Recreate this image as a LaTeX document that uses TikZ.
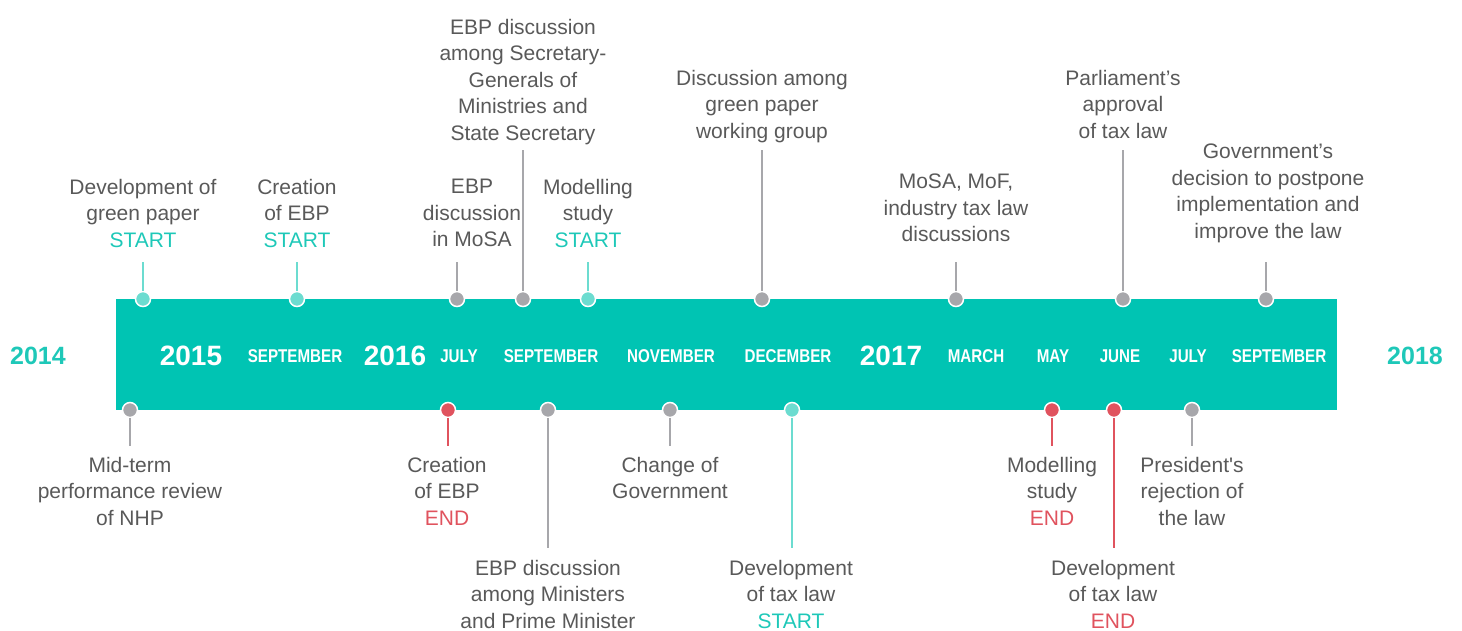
\documentclass[tikz,border=0pt]{standalone}
\usepackage{fontspec}
\setmainfont{Liberation Sans}
\newfontfamily\condfont[FakeStretch=0.82]{Liberation Sans}
\definecolor{barteal}{RGB}{0,196,179}
\definecolor{lteal}{RGB}{108,220,208}
\definecolor{startc}{RGB}{30,200,184}
\definecolor{mgray}{RGB}{167,167,171}
\definecolor{mred}{RGB}{224,83,94}
\definecolor{txt}{RGB}{89,89,89}
\tikzset{
  dotm/.style={circle,draw=white,line width=1.5pt,minimum size=15pt,inner sep=0pt,fill=#1},
  stem/.style={line width=2pt,draw=#1},
  lbl/.style={anchor=north,inner sep=0pt,align=center,text=txt,font=\fontsize{21}{26.5}\selectfont},
  month/.style={text=white,font=\condfont\bfseries\fontsize{18.5}{20}\selectfont,inner sep=0pt},
  yearin/.style={text=white,font=\bfseries\fontsize{28}{30}\selectfont,inner sep=0pt},
  yearout/.style={text=startc,font=\bfseries\fontsize{25}{26}\selectfont,inner sep=0pt},
}
\begin{document}
\begin{tikzpicture}[x=1pt,y=-1pt]
\useasboundingbox (0,0) rectangle (1462,630);
% bar
\node[fill=barteal,minimum width=1221pt,minimum height=111pt,inner sep=0pt,anchor=north west] (bar) at (116,299) {};
% bar labels
\node[yearout] (y14) at (38,356) {2014};
\node[yearin] (y15) at (191,356) {2015};
\node[month] (m1) at (295,356) {SEPTEMBER};
\node[yearin] (y16) at (395,356) {2016};
\node[month] (m2) at (459,356) {JULY};
\node[month] (m3) at (551,356) {SEPTEMBER};
\node[month] (m4) at (671,356) {NOVEMBER};
\node[month] (m5) at (788,356) {DECEMBER};
\node[yearin] (y17) at (891,356) {2017};
\node[month] (m6) at (976,356) {MARCH};
\node[month] (m7) at (1053,356) {MAY};
\node[month] (m8) at (1120,356) {JUNE};
\node[month] (m9) at (1188,356) {JULY};
\node[month] (m10) at (1279,356) {SEPTEMBER};
\node[yearout] (y18) at (1415,356) {2018};
% top end coordinates
\coordinate (ta) at (143,262);
\coordinate (tb) at (297,262);
\coordinate (tc) at (457,262);
\coordinate (td) at (523,150);
\coordinate (te) at (588,262);
\coordinate (tf) at (762,150);
\coordinate (tg) at (956,262);
\coordinate (th) at (1123,150);
\coordinate (ti) at (1266,262);
% bottom end coordinates
\coordinate (ba) at (130,446);
\coordinate (bb) at (448,446);
\coordinate (bc) at (548,548);
\coordinate (bd) at (670,446);
\coordinate (be) at (792,548);
\coordinate (bf) at (1052,446);
\coordinate (bg) at (1114,548);
\coordinate (bh) at (1192,446);
% top dots
\node[dotm=lteal] (da) at (143,299) {};
\node[dotm=lteal] (db) at (297,299) {};
\node[dotm=mgray] (dc) at (457,299) {};
\node[dotm=mgray] (dd) at (523,299) {};
\node[dotm=lteal] (de) at (588,299) {};
\node[dotm=mgray] (df) at (762,299) {};
\node[dotm=mgray] (dg) at (956,299) {};
\node[dotm=mgray] (dh) at (1123,299) {};
\node[dotm=mgray] (di) at (1266,299) {};
% bottom dots
\node[dotm=mgray] (ea) at (130,410) {};
\node[dotm=mred] (eb) at (448,410) {};
\node[dotm=mgray] (ec) at (548,410) {};
\node[dotm=mgray] (ed) at (670,410) {};
\node[dotm=lteal] (ee) at (792,410) {};
\node[dotm=mred] (ef) at (1052,410) {};
\node[dotm=mred] (eg) at (1114,410) {};
\node[dotm=mgray] (eh) at (1192,410) {};
% stems
\draw[stem=lteal] (da.north) -- (ta);
\draw[stem=lteal] (db.north) -- (tb);
\draw[stem=mgray] (dc.north) -- (tc);
\draw[stem=mgray] (dd.north) -- (td);
\draw[stem=lteal] (de.north) -- (te);
\draw[stem=mgray] (df.north) -- (tf);
\draw[stem=mgray] (dg.north) -- (tg);
\draw[stem=mgray] (dh.north) -- (th);
\draw[stem=mgray] (di.north) -- (ti);
\draw[stem=mgray] (ea.south) -- (ba);
\draw[stem=mred] (eb.south) -- (bb);
\draw[stem=mgray] (ec.south) -- (bc);
\draw[stem=mgray] (ed.south) -- (bd);
\draw[stem=lteal] (ee.south) -- (be);
\draw[stem=mred] (ef.south) -- (bf);
\draw[stem=mred] (eg.south) -- (bg);
\draw[stem=mgray] (eh.south) -- (bh);
% top labels
\node[lbl] (la) at (143,179) {Development of\\green paper\\\textcolor{startc}{START}};
\node[lbl] (lb) at (297,179) {Creation\\of EBP\\\textcolor{startc}{START}};
\node[lbl] (lc) at (472,179) {EBP\\discussion\\in MoSA};
\node[lbl] (ld) at (523,19) {EBP discussion\\among Secretary-\\Generals of\\Ministries and\\State Secretary};
\node[lbl] (le) at (588,179) {Modelling\\study\\\textcolor{startc}{START}};
\node[lbl] (lf) at (762,70) {Discussion among\\green paper\\working group};
\node[lbl] (lg) at (956,174) {MoSA, MoF,\\industry tax law\\discussions};
\node[lbl] (lh) at (1123,70) {Parliament's\\approval\\of tax law};
\node[lbl] (li) at (1268,144) {Government's\\decision to postpone\\implementation and\\improve the law};
% bottom labels
\node[lbl] (ka) at (130,457) {Mid-term\\performance review\\of NHP};
\node[lbl] (kb) at (447,457) {Creation\\of EBP\\\textcolor{mred}{END}};
\node[lbl] (kc) at (548,560) {EBP discussion\\among Ministers\\and Prime Minister};
\node[lbl] (kd) at (670,457) {Change of\\Government};
\node[lbl] (ke) at (791,560) {Development\\of tax law\\\textcolor{startc}{START}};
\node[lbl] (kf) at (1052,457) {Modelling\\study\\\textcolor{mred}{END}};
\node[lbl] (kg) at (1113,560) {Development\\of tax law\\\textcolor{mred}{END}};
\node[lbl] (kh) at (1192,457) {President\textquotesingle s\\rejection of\\the law};
\end{tikzpicture}
\end{document}
